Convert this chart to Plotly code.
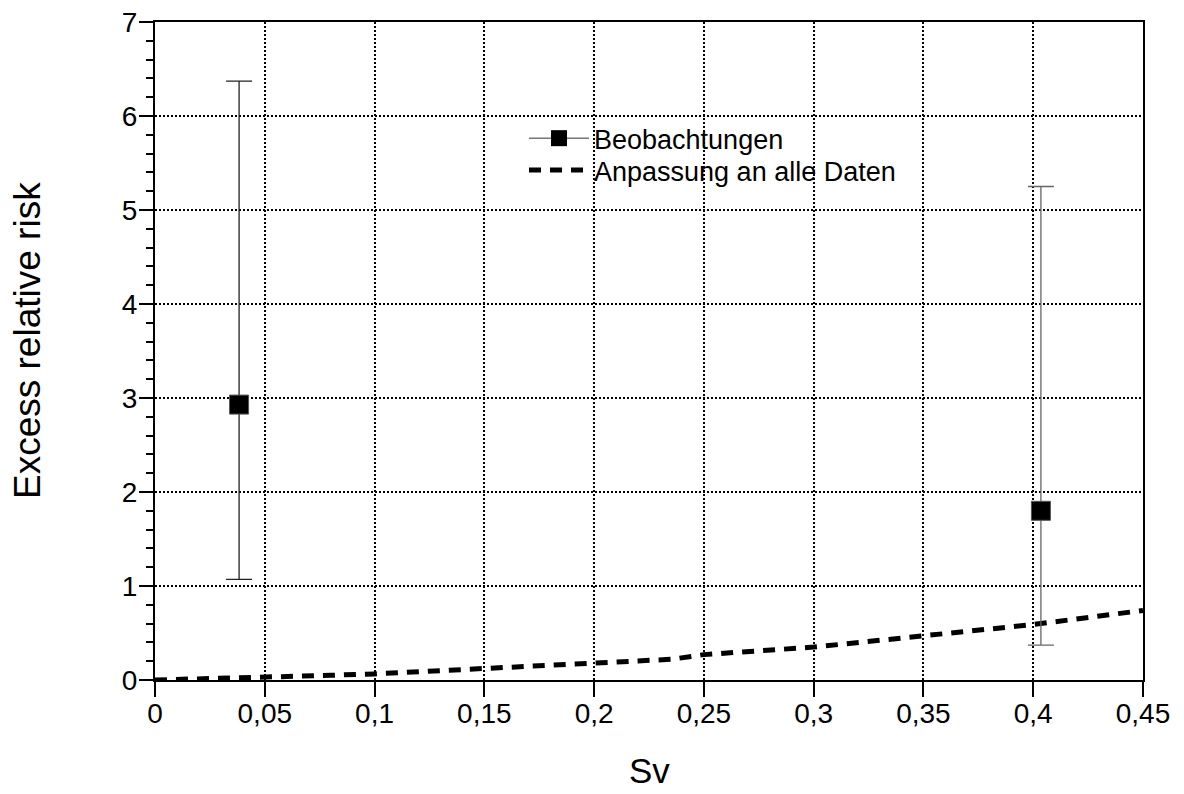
import plotly.graph_objects as go

# Observations
obs_dose = [0.0383, 0.4035]
obs_err = [2.93, 1.80]
obs_upper = [6.37, 5.25]
obs_lower = [1.07, 0.37]

# Fit to all data
fit_dose = [0.0, 0.02, 0.05, 0.08, 0.10, 0.15, 0.18, 0.20, 0.235, 0.25, 0.30, 0.35, 0.40, 0.45]
fit_err = [0.0, 0.01, 0.03, 0.05, 0.065, 0.12, 0.15, 0.18, 0.22, 0.27, 0.35, 0.47, 0.59, 0.74]

x_ticks = [0, 0.05, 0.1, 0.15, 0.2, 0.25, 0.3, 0.35, 0.4, 0.45]

FONT = "Liberation Sans, Arial, sans-serif"

fig = go.Figure()

# legend entry for observations
fig.add_trace(go.Scatter(
    x=[None], y=[None], mode="lines+markers",
    name="Beobachtungen", legend="legend",
    line=dict(color="#777777", width=1.5),
    marker=dict(symbol="square", size=19, color="black"),
))

fig.add_trace(go.Scatter(
    x=fit_dose, y=fit_err, mode="lines",
    name="Anpassung an alle Daten", legend="legend2",
    line=dict(color="black", width=5, dash="12px,9px"),
))

err_colors = ["#222222", "#666666"]
for i in range(len(obs_dose)):
    fig.add_trace(go.Scatter(
        x=[obs_dose[i]], y=[obs_err[i]], mode="markers",
        showlegend=False,
        marker=dict(symbol="square", size=19, color="black",
                    line=dict(color="#555555", width=1)),
        error_y=dict(type="data", symmetric=False,
                     array=[obs_upper[i] - obs_err[i]],
                     arrayminus=[obs_err[i] - obs_lower[i]],
                     color=err_colors[i], thickness=1.3, width=13),
    ))

leg_common = dict(xanchor="left", yanchor="top", bgcolor="rgba(0,0,0,0)",
                  borderwidth=0, font=dict(size=27, family=FONT, color="black"),
                  itemwidth=60)

fig.update_layout(
    width=1168, height=800,
    margin=dict(l=147, r=33, t=14, b=128, autoexpand=False),
    paper_bgcolor="white", plot_bgcolor="white",
    separators=",.",
    font=dict(family=FONT, size=28, color="black"),
    legend=dict(x=0.3735, y=0.860, **leg_common),
    legend2=dict(x=0.3735, y=0.8116, **leg_common),
    shapes=[dict(type="rect", xref="paper", yref="paper",
                 x0=0.3613, x1=0.757, y0=0.734, y1=0.8556,
                 fillcolor="white", line=dict(width=0), layer="below")],
    xaxis=dict(
        range=[0, 0.45], tickvals=x_ticks, ticks="outside", ticklen=15,
        tickwidth=1.5, tickcolor="black", automargin=False,
        ticklabeloverflow="allow", ticklabelstandoff=-8,
        showline=True, linecolor="black", linewidth=2, mirror=True,
        showgrid=True, gridcolor="black", gridwidth=2, griddash="2px,2px",
        zeroline=False,
        tickfont=dict(size=28, family=FONT),
    ),
    yaxis=dict(
        range=[0, 7], dtick=1, ticks="outside", ticklen=14,
        tickwidth=1.5, tickcolor="black", automargin=False,
        ticklabeloverflow="allow", ticklabelstandoff=-4,
        minor=dict(dtick=0.2, ticks="outside", ticklen=7, tickcolor="black", tickwidth=1.5, showgrid=False),
        showline=True, linecolor="black", linewidth=2, mirror=True,
        showgrid=True, gridcolor="black", gridwidth=2, griddash="2px,2px",
        zeroline=False,
        tickfont=dict(size=28, family=FONT),
    ),
    annotations=[
        dict(text="Excess relative risk", xref="paper", yref="paper",
             x=0, y=0.5, xanchor="center", yanchor="middle",
             xshift=-128, yshift=10, textangle=-90, showarrow=False,
             font=dict(size=37, family=FONT, color="black")),
        dict(text="Sv", xref="paper", yref="paper",
             x=0.5, y=0, xanchor="center", yanchor="middle",
             yshift=-90, showarrow=False,
             font=dict(size=35, family=FONT, color="black")),
    ],
)

fig.write_html("out.html")
